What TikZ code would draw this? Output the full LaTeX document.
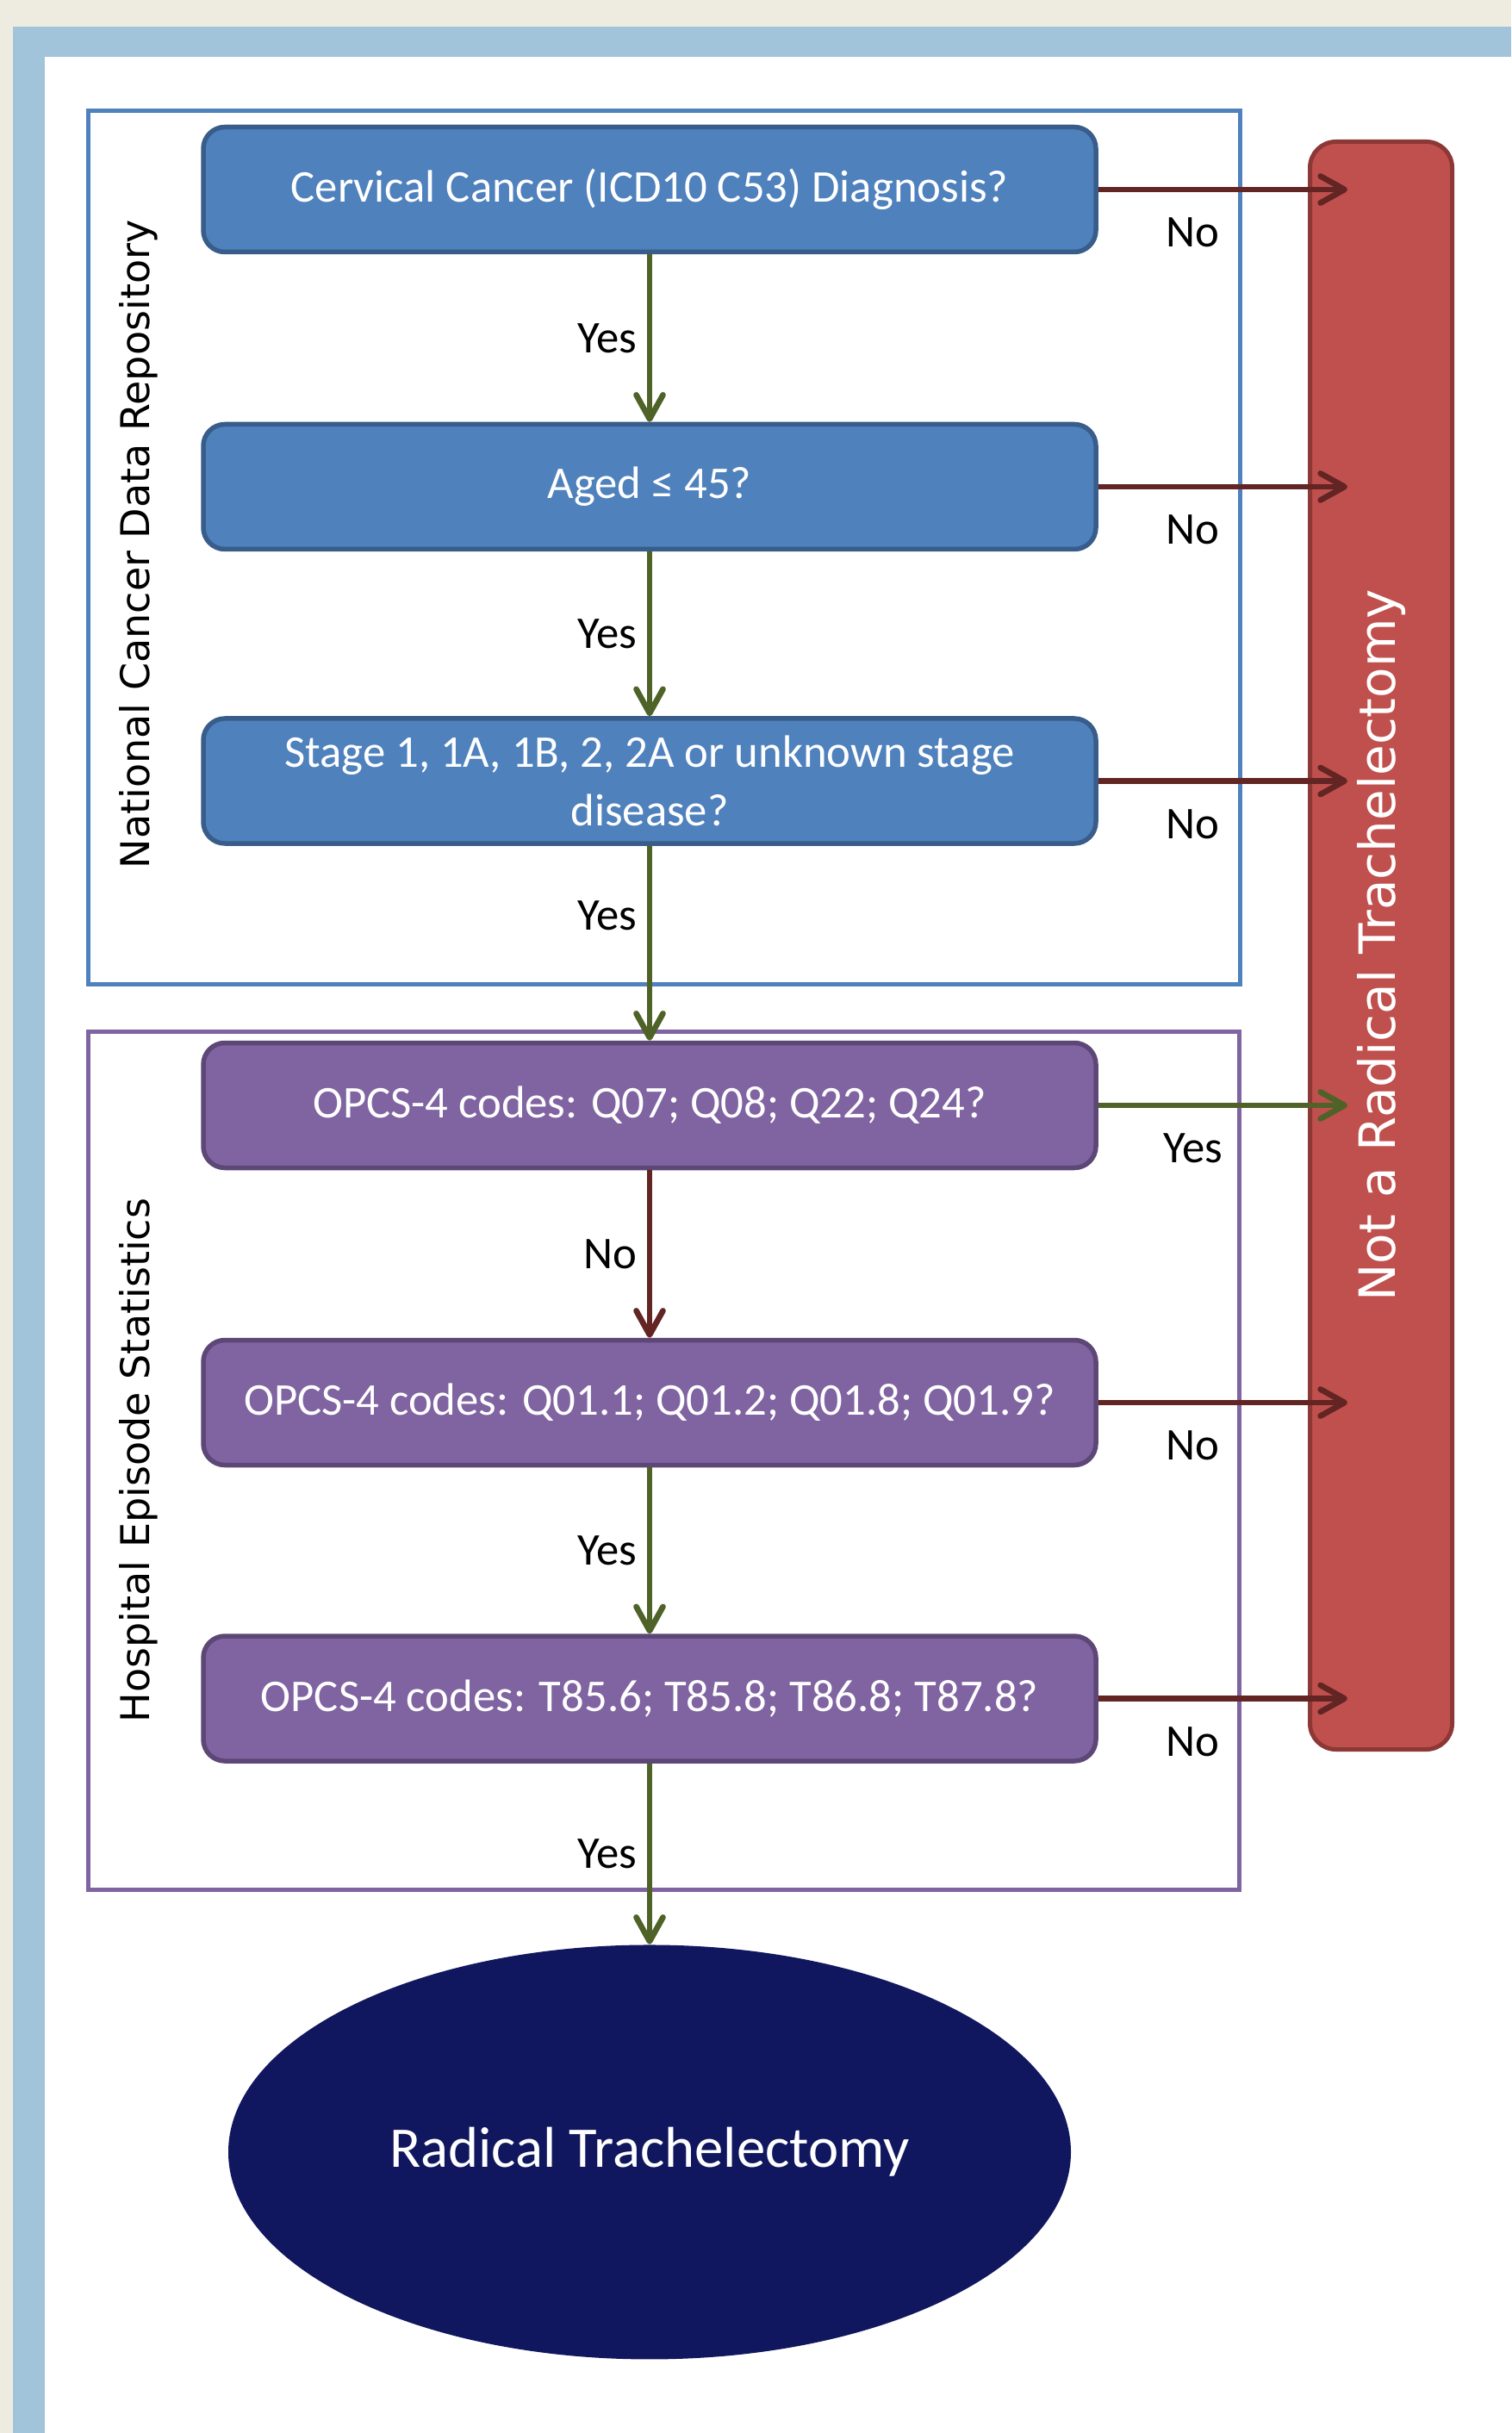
\documentclass[tikz,border=0pt]{standalone}
\usepackage{fontspec}
\setmainfont{Carlito}
\newfontfamily\dejavu{DejaVu Sans}
\usetikzlibrary{positioning,shapes.geometric,arrows.meta}

\definecolor{pagetan}{HTML}{EEECE1}
\definecolor{bandblue}{HTML}{A2C4DA}
\definecolor{ncdrblue}{HTML}{4F81BD}
\definecolor{ncdrline}{HTML}{385D8A}
\definecolor{hespurple}{HTML}{8064A2}
\definecolor{hesline}{HTML}{5C4776}
\definecolor{notred}{HTML}{C0504D}
\definecolor{notline}{HTML}{8C3836}
\definecolor{noarrow}{HTML}{632523}
\definecolor{yesarrow}{HTML}{4F6228}
\definecolor{rtnavy}{HTML}{10175E}

\tikzset{
  qbox/.style={rectangle, rounded corners=0.25cm, draw, line width=0.055cm, text=white, align=center, inner ysep=0.05cm, minimum width=10.36cm, minimum height=1.45cm, font=\fontsize{15}{19.3}\selectfont},
  ncdrq/.style={qbox, fill=ncdrblue, draw=ncdrline},
  hesq/.style={qbox, fill=hespurple, draw=hesline},
  srcframe/.style={rectangle, draw, line width=0.05cm, inner sep=0pt},
  srclabel/.style={rotate=90, font=\dejavu\fontsize{13.1}{15}\selectfont},
  answer/.style={font=\fontsize{15}{18}\selectfont},
  flowline/.style={line width=0.067cm, -{Straight Barb[length=0.28cm, width=0.31cm, round]}},
  yesflow/.style={flowline, draw=yesarrow},
  noflow/.style={flowline, draw=noarrow}
}

\begin{document}
\begin{tikzpicture}
    \useasboundingbox (0,0) rectangle (17.54,-28.24);
    % page background
    \fill[pagetan] (0,0) rectangle (17.54,-28.24);
    \fill[bandblue] (0.15,-0.31) rectangle (17.54,-28.24);
    \fill[white] (0.52,-0.66) rectangle (17.54,-28.24);

    % data sources
    \node (ncdr) [srcframe, draw=ncdrblue, minimum width=13.365cm, minimum height=10.135cm] at (7.7075,-6.3525) {};
    \node (hes) [srcframe, draw=hespurple, minimum width=13.355cm, minimum height=9.955cm] at (7.7025,-16.9525) {};
    \node (ncdrlabel) [srclabel] at (1.61,-6.32) {National Cancer Data Repository};
    \node (heslabel) [srclabel] at (1.61,-16.95) {Hospital Episode Statistics};

    % excluded
    \node (notrt) [rectangle, rounded corners=0.3cm, fill=notred, draw=notline, line width=0.05cm, rotate=90, minimum width=18.66cm, minimum height=1.65cm, text=white, font=\dejavu\fontsize{16.5}{20}\selectfont] at (16.03,-10.975) {Not a Radical Trachelectomy};
    \coordinate (notin) at (15.64,0);

    % questions
    \node (q1) [ncdrq] at (7.54,-2.2) {Cervical Cancer (ICD10 C53) Diagnosis?};
    \node (q2) [ncdrq, below=1.945cm of q1] {Aged ≤ 45?};
    \node (q3) [ncdrq, below=1.91cm of q2] {Stage 1, 1A, 1B, 2, 2A or unknown stage\\disease?};
    \node (q4) [hesq, below=2.26cm of q3] {OPCS-4 codes: Q07; Q08; Q22; Q24?};
    \node (q5) [hesq, below=1.945cm of q4] {OPCS-4 codes: Q01.1; Q01.2; Q01.8; Q01.9?};
    \node (q6) [hesq, below=1.93cm of q5] {OPCS-4 codes: T85.6; T85.8; T86.8; T87.8?};
    \node (rt) [ellipse, fill=rtnavy, text=white, minimum width=9.78cm, minimum height=4.81cm, font=\fontsize{19}{23}\selectfont, below=2.1cm of q6] {Radical Trachelectomy};

    % down the flow
    \draw[yesflow] (q1) -- node[left, answer] {Yes} (q2);
    \draw[yesflow] (q2) -- node[left, answer] {Yes} (q3);
    \draw[yesflow] (q3) -- node[pos=0.36, left, answer] {Yes} (q4);
    \draw[noflow] (q4) -- node[left, answer] {No} (q5);
    \draw[yesflow] (q5) -- node[left, answer] {Yes} (q6);
    \draw[yesflow] (q6) -- node[left, answer] {Yes} (rt);

    % out of the flow
    \draw[noflow] (q1.east) -- node[pos=0.38, below=0.18cm, answer] {No} (q1.east -| notin);
    \draw[noflow] (q2.east) -- node[pos=0.38, below=0.18cm, answer] {No} (q2.east -| notin);
    \draw[noflow] (q3.east) -- node[pos=0.38, below=0.18cm, answer] {No} (q3.east -| notin);
    \draw[yesflow] (q4.east) -- node[pos=0.38, below=0.18cm, answer] {Yes} (q4.east -| notin);
    \draw[noflow] (q5.east) -- node[pos=0.38, below=0.18cm, answer] {No} (q5.east -| notin);
    \draw[noflow] (q6.east) -- node[pos=0.38, below=0.18cm, answer] {No} (q6.east -| notin);
\end{tikzpicture}
\end{document}
